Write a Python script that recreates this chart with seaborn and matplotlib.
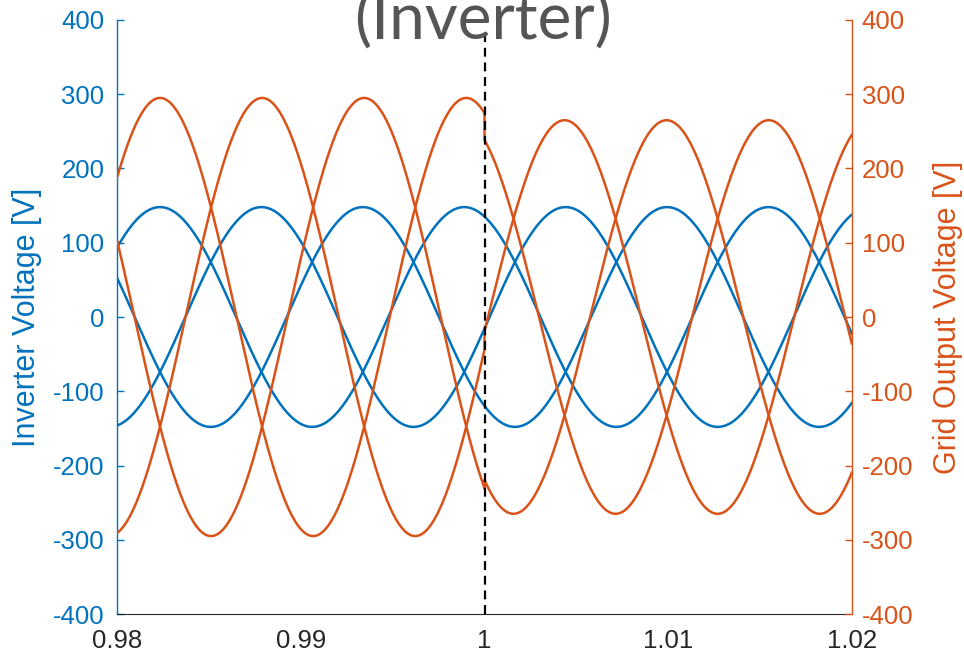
import numpy as np
import pandas as pd
import matplotlib
matplotlib.use("Agg")
import matplotlib.pyplot as plt
import seaborn as sns

# Three-phase waveform parameters (time in s, voltage in V)
phase_shifts_deg = [0, -120, 120]
inverter_amplitude = 148
inverter_freq_hz = 60.4
inverter_peak_time = 0.98234
grid_amplitude = [295, 265]          # before / after the switching instant
grid_peak_time = [0.98234, 0.9988]   # reference peak of phase a, before / after
grid_freq_hz = 60
switch_time = 1.0
x_range = [0.98, 1.02]
x_ticks = [0.98, 0.99, 1.0, 1.01, 1.02]
x_tick_labels = ["0.98", "0.99", "1", "1.01", "1.02"]
y_ticks = [-400, -300, -200, -100, 0, 100, 200, 300, 400]

BLUE = "#0072BD"
ORANGE = "#D95319"

sns.set_style("white")
plt.rcParams["font.family"] = ["Liberation Sans", "DejaVu Sans"]
plt.rcParams["axes.unicode_minus"] = False

# sample grid, with the switching instant duplicated so the step is vertical
t_before = np.linspace(x_range[0], switch_time, 1200)
t_after = np.linspace(switch_time, x_range[1], 1200)
t_all = np.concatenate([t_before, t_after])

rows_inv, rows_grid = [], []
for k, sh in enumerate(phase_shifts_deg):
    ph = np.deg2rad(sh)
    v_inv = inverter_amplitude * np.cos(2 * np.pi * inverter_freq_hz * (t_all - inverter_peak_time) + ph)
    rows_inv.append(pd.DataFrame({"t": t_all, "v": v_inv, "phase": k}))
    v_g1 = grid_amplitude[0] * np.cos(2 * np.pi * grid_freq_hz * (t_before - grid_peak_time[0]) + ph)
    v_g2 = grid_amplitude[1] * np.cos(2 * np.pi * grid_freq_hz * (t_after - grid_peak_time[1]) + ph)
    rows_grid.append(pd.DataFrame({"t": t_all, "v": np.concatenate([v_g1, v_g2]), "phase": k}))
inv_df = pd.concat(rows_inv, ignore_index=True)
grid_df = pd.concat(rows_grid, ignore_index=True)

fig = plt.figure(figsize=(9.64, 6.57), dpi=100)
ax = fig.add_axes([0.1214, 0.0654, 0.7624, 0.9042])
ax2 = ax.twinx()

for k in range(len(phase_shifts_deg)):
    sns.lineplot(data=inv_df[inv_df.phase == k], x="t", y="v", ax=ax, color=BLUE,
                 linewidth=1.8, estimator=None, sort=False, legend=False)
    sns.lineplot(data=grid_df[grid_df.phase == k], x="t", y="v", ax=ax2, color=ORANGE,
                 linewidth=1.8, estimator=None, sort=False, legend=False)

ax2.axvline(switch_time, ymin=0, ymax=0.975, color="black", linewidth=1.6,
            linestyle=(0, (4, 2.6)), zorder=5)

for a in (ax, ax2):
    a.set_xlim(*x_range)
    a.set_ylim(-400, 400)
    a.set_yticks(y_ticks)
    a.set_facecolor("none")
    a.spines["top"].set_visible(False)

ax.set_xticks(x_ticks)
ax.set_xticklabels(x_tick_labels)
ax.spines["right"].set_visible(False)
ax2.spines["left"].set_visible(False)
ax2.spines["bottom"].set_visible(False)
ax.spines["left"].set_color(BLUE)
ax.spines["left"].set_linewidth(1.0)
ax.spines["bottom"].set_color("#262626")
ax.spines["bottom"].set_linewidth(0.8)
ax2.spines["right"].set_color(ORANGE)
ax2.spines["right"].set_linewidth(1.0)

ax.tick_params(axis="y", direction="in", length=5, width=1, colors=BLUE, labelsize=18.5, pad=9)
ax.tick_params(axis="x", direction="in", length=5, width=0.8, colors="#262626", labelsize=18.5, pad=11)
ax2.tick_params(axis="y", direction="in", length=5, width=1, colors=ORANGE, labelsize=18.5, pad=7)

ax.set_xlabel("")
ax.set_ylabel("Inverter Voltage [V]", color=BLUE, fontsize=22, labelpad=8)
ax2.set_ylabel("Grid Output Voltage [V]", color=ORANGE, fontsize=22, labelpad=14)

fig.text(0.501, 0.939, "(Inverter)", ha="center", va="baseline",
         fontsize=46, color="#555555", family=["Lato", "DejaVu Sans"], zorder=10)

fig.savefig("out.png", dpi=100)
